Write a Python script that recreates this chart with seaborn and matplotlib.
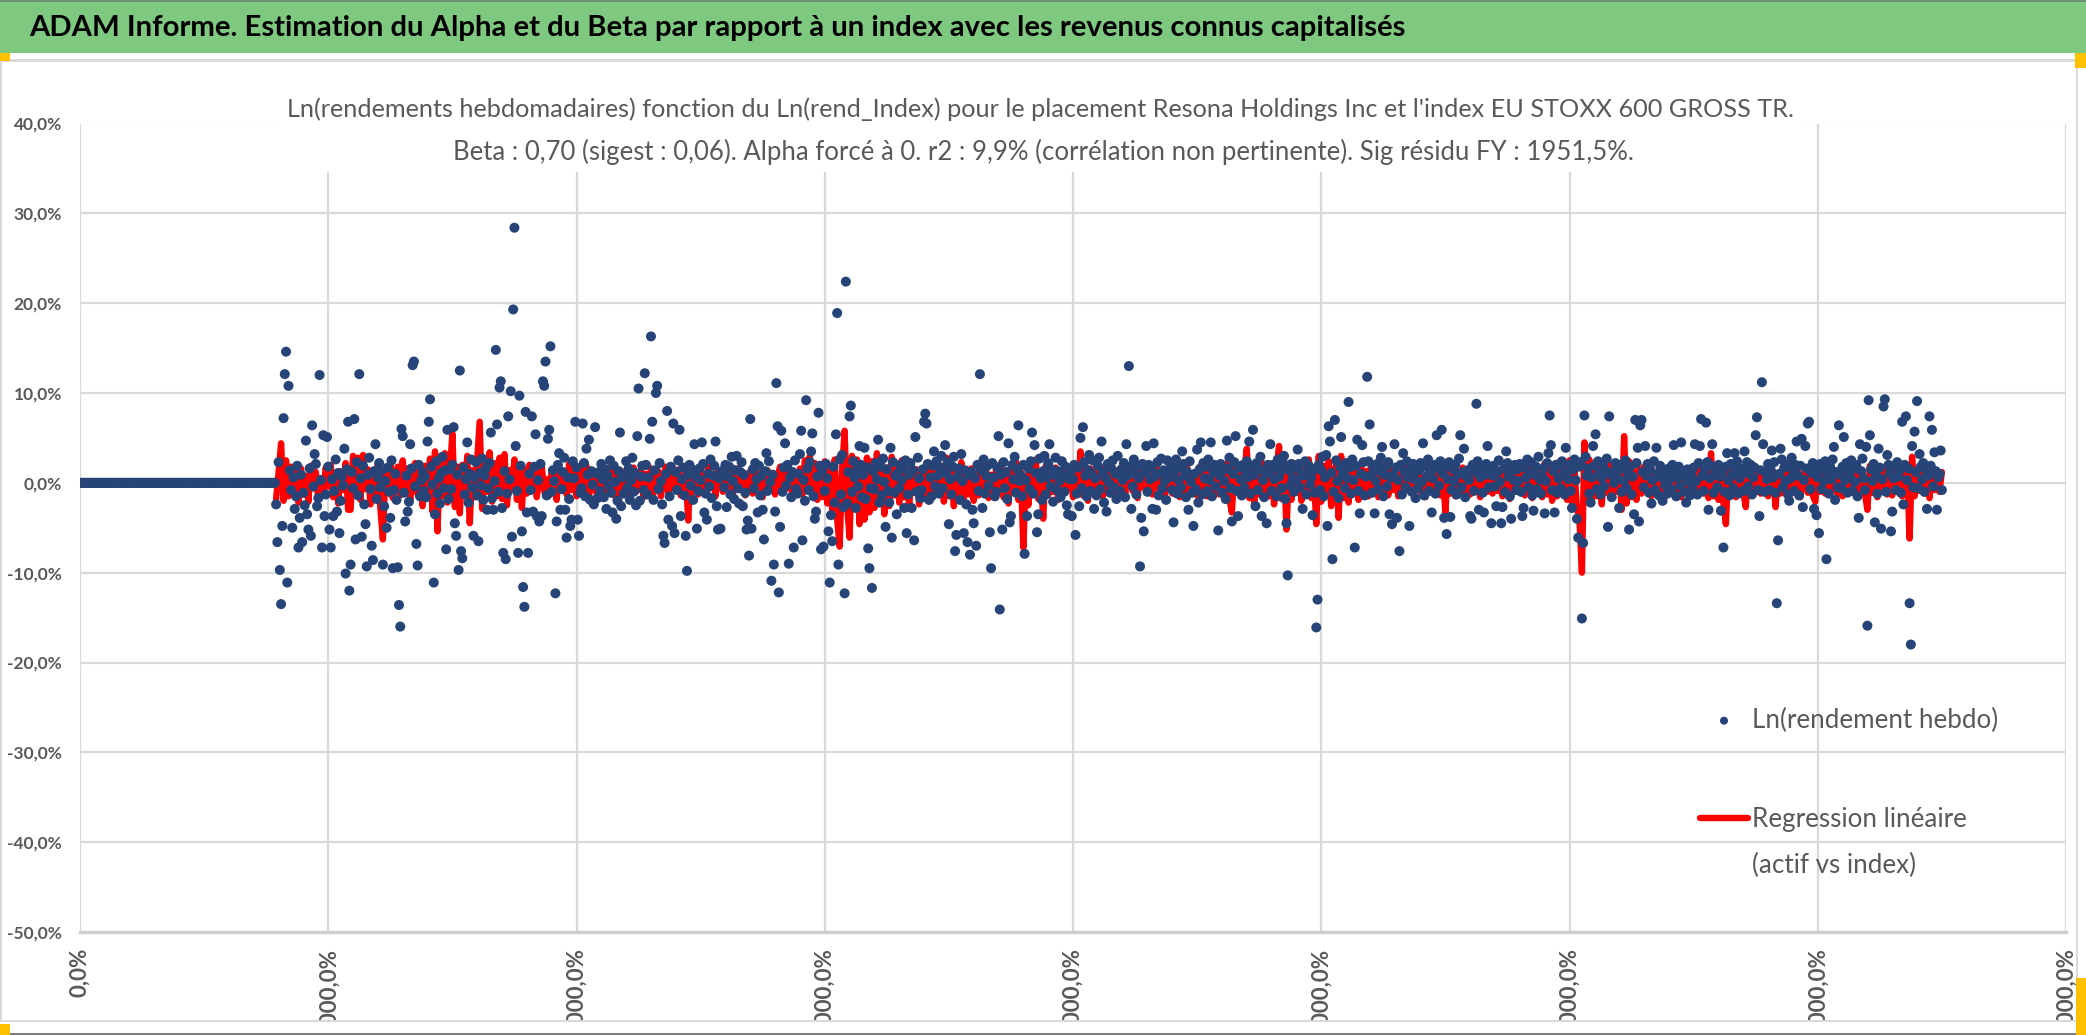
import matplotlib
matplotlib.use("Agg")
import matplotlib.pyplot as plt
from matplotlib import font_manager
from matplotlib.lines import Line2D
from matplotlib.patches import Rectangle
import pandas as pd
import seaborn as sns

W, H, DPI = 2086, 1035, 100

# ---------------------------------------------------------------- data
# Ln(rendement hebdo), in %. The series sits flat on 0 before the history
# starts at x = 79, then two points per x unit (rows of 20 = 10 x units).
FIRST_X = 79
flat_start = [0.0] * (2 * FIRST_X)

weekly_079 = [
    [-2.4, -6.6, 2.3, -9.7, -13.5, -4.8, 7.2, 12.1, 14.6, -11.1, 10.8, 1.4, -0.8, -5.0, 0.6, -2.9, -1.5, 1.9, -7.2, -3.9],
    [0.9, -6.6, -1.1, -2.5, 4.7, -3.5, -5.2, 1.6, -5.9, 6.4, -0.4, 3.2, 2.1, -2.6, -1.7, 12.0, 0.3, -7.2, 5.3, -3.7],
    [-1.3, 5.1, 1.8, -5.2, -7.2, 0.4, -3.7, -0.9, 2.6, -3.2, 1.1, -5.6, -2.0, 0.7, -0.3, 3.8, -10.1, 1.5, 6.8, -12.0],
    [-9.1, 1.2, -0.6, 7.1, -6.3, 2.3, -1.4, 12.1, 0.5, -6.0, 1.9, -2.4, -4.6, -9.3, 0.9, 2.8, -0.7, -7.0, -8.6, 1.3],
    [4.3, -1.8, 0.6, 2.2, -0.5, 1.4, -9.1, -2.6, 0.2, -5.0, 1.7, -1.0, -3.9, 2.5, -9.5, -0.8, 1.0, -1.9, -9.4, -13.6],
    [-16.0, 6.0, 5.2, -1.1, -4.3, 0.8, -3.2, -2.1, 4.3, 1.6, 13.1, 13.5, -0.4, -6.8, -9.2, 2.0, -1.5, 0.3, 1.2, -0.9],
    [0.7, -1.6, 4.6, 6.8, 9.3, 1.8, -0.2, -11.1, -3.5, 2.4, -1.2, 0.5, -2.3, 1.1, 2.9, -0.6, 1.4, -7.4, 5.9, -1.8],
    [1.5, -0.7, 2.0, 6.2, -4.5, -5.9, 0.9, -9.7, 12.5, -7.6, -8.4, 1.7, -1.3, 0.4, 4.5, -2.2, 1.0, 2.6, -0.5, -5.9],
    [0.6, 2.3, -1.4, -6.5, 1.1, -0.3, 2.7, -1.9, 0.8, 1.6, -3.0, -0.6, 2.2, 5.6, -1.7, -3.0, 0.2, 14.8, 6.5, -1.0],
    [10.6, 11.3, -2.8, -7.8, 1.3, -8.5, -1.2, 7.4, 0.4, 10.2, -6.0, 19.3, 28.4, 4.1, -0.9, -7.8, 9.7, 1.9, -5.4, -11.6],
]
weekly_179 = [
    [-13.8, 7.9, -3.3, -7.8, 1.0, -0.8, 7.4, -3.2, 1.8, 5.4, -3.7, 0.3, -4.3, 2.1, -3.7, 11.3, 10.8, 13.5, -1.4, 4.9],
    [5.9, 15.2, -1.0, 1.4, 0.2, -12.3, -4.3, 2.0, 3.3, -3.0, -0.7, 1.2, 2.8, -3.0, -6.1, 0.6, -1.8, -4.8, -4.1, 2.4],
    [0.5, 6.8, 1.7, -4.1, -5.9, -1.1, -0.6, 6.6, 2.2, -1.5, 3.8, 0.9, 4.8, -1.9, 1.3, -0.2, -2.4, 6.2, 1.0, -1.7],
    [1.2, -0.9, 2.1, 0.4, -1.6, 1.5, -2.9, 0.8, -0.3, 2.5, -1.1, -3.3, 1.9, 0.1, -4.0, -2.0, 1.3, 5.6, -2.6, 0.6],
    [-1.2, 0.9, 2.4, -0.5, 1.6, -1.9, 0.3, 2.8, -1.0, 1.1, -2.5, 5.2, 10.5, -2.0, 0.7, 1.9, -0.8, 12.2, 2.0, -1.3],
    [0.6, 4.9, 16.3, 6.8, -1.9, 1.4, 10.0, 10.8, -0.7, 2.2, 0.2, -2.4, -5.9, -6.7, 1.0, 8.0, -4.1, -1.5, 1.8, -4.8],
    [6.6, -5.6, 1.2, -0.8, 2.5, 5.9, -3.7, 0.4, 1.7, -1.4, -5.9, -9.8, 0.9, 2.0, -0.3, 1.5, -1.9, 4.3, 0.7, -5.1],
    [-0.9, 1.6, 0.3, 4.5, 2.1, -3.3, -1.2, -4.1, 1.0, -0.4, 2.6, -1.7, 0.8, 1.9, 4.6, -2.6, -5.2, 0.5, -5.1, 1.3],
    [1.1, -0.5, 2.0, -2.7, 0.7, 1.8, -1.3, 2.9, 0.2, -1.8, 1.4, 3.0, -0.6, -2.3, 1.2, 2.3, -2.6, 0.9, -1.1, -5.2],
    [-4.2, -8.1, 7.1, -5.1, 1.5, -0.6, 2.2, 0.4, -3.3, 1.9, -1.4, 0.8, -3.0, -6.3, 1.3, 3.3, -0.9, 2.4, 0.1, -10.9],
]
weekly_279 = [
    [0.9, -9.1, -3.2, 11.1, 6.3, -12.2, -4.9, 5.8, -1.0, 1.7, 4.4, -0.3, 2.0, -9.0, 0.6, -1.6, 1.2, -7.2, 2.5, -0.7],
    [-1.2, 1.0, 3.2, 5.8, -6.4, 0.3, -2.0, 9.2, 1.6, -0.8, 2.3, 3.5, 5.5, -1.5, -4.0, -3.2, 0.7, 7.8, 1.9, -7.4],
    [1.4, -7.1, -0.9, 2.1, 0.5, -5.4, -11.1, -3.6, -6.5, 1.8, -2.2, 5.4, 18.9, -9.1, 2.6, -1.3, 3.1, -2.7, -12.3, 22.4],
    [-2.3, 1.2, 7.4, 8.6, -1.0, 2.4, 0.6, -2.8, 1.5, -0.4, 4.1, 2.0, -1.6, 0.9, 3.9, -1.8, 1.7, -7.3, -9.5, -0.6],
    [-11.7, 1.3, -0.7, 2.2, 0.4, 4.8, -2.2, 1.8, -1.4, 2.7, 0.1, -4.9, 1.5, -0.9, -2.2, 3.9, -6.1, 2.3, -1.1, 0.8],
    [-3.5, 1.1, -0.6, 2.0, 0.3, 1.6, -2.8, 2.5, -5.6, -1.3, 0.9, 2.2, -2.8, 1.4, -6.4, 5.1, -1.0, 2.8, 0.5, -1.7],
    [-0.8, 1.5, 6.8, 7.7, 6.6, 2.1, -1.9, 0.6, -1.5, 1.9, 3.5, -0.4, 2.4, 0.8, -1.2, 1.7, 3.0, -0.6, 1.3, 4.2],
    [1.0, 2.3, -4.6, 0.4, -1.3, 1.8, 2.9, -7.6, -5.8, 0.7, 1.6, -1.9, 3.2, 0.2, -5.6, 1.4, -2.4, -6.6, 0.9, -8.0],
    [1.2, -3.0, -4.5, 0.5, -7.0, 2.0, -0.9, 12.1, 1.4, -2.8, 2.6, -1.2, 0.8, 1.9, -0.3, -5.5, -9.5, 2.2, 0.6, -1.5],
    [-1.0, 1.7, 5.2, -14.1, 0.9, -5.2, 2.3, -0.6, 1.2, -1.8, 4.4, -4.4, -3.7, 2.0, 0.4, 2.9, -1.1, 1.5, 6.4, 0.2],
]
weekly_379 = [
    [0.8, -1.5, 2.0, -7.9, 0.3, -3.7, 1.6, -0.7, 2.4, 5.6, -1.2, 4.2, 1.1, -5.5, -3.5, 2.7, 0.5, -1.9, 1.3, 3.0],
    [-1.3, 0.6, 2.2, 4.3, -0.4, 1.5, -2.1, 0.9, 2.8, -0.8, 1.3, 0.2, -1.6, 2.4, 0.7, -1.0, 1.8, -2.5, -3.5, 0.4],
    [1.1, -3.7, 0.4, 2.0, -5.8, -1.2, 1.7, -2.6, 5.0, -0.6, 6.2, 2.3, 0.8, -1.5, 1.4, 3.1, -0.9, 1.0, 2.5, -2.9],
    [0.5, -1.4, 1.9, 2.8, -0.7, 4.6, 1.2, -2.2, 0.6, -3.2, 2.1, 0.0, -1.1, 1.6, 2.5, -0.5, 1.0, -1.8, 3.0, 0.9],
    [-0.9, 1.5, 0.3, 2.2, -1.6, 4.3, 0.8, 13.0, 1.8, -2.9, -0.4, 2.6, 1.0, -1.3, 1.9, 0.5, -9.3, -3.9, 2.1, -5.4],
    [1.2, 4.1, -1.0, 2.0, 0.4, 1.6, -2.9, 4.4, 0.7, -3.0, 2.3, -1.4, 1.1, 2.7, -0.6, 1.4, 0.2, -1.9, 2.5, 0.9],
    [0.6, 1.9, -0.8, -4.4, 1.3, 2.6, -1.2, 0.3, 1.7, -0.5, 3.5, 2.1, 0.8, -1.6, 1.2, -3.0, 2.4, 0.1, -1.1, -4.8],
    [1.0, -0.7, 3.7, -2.2, 1.5, 4.5, -1.3, 2.2, 0.5, 1.8, -0.9, 2.6, 0.3, 4.5, -1.5, 1.2, 2.0, -0.4, 1.6, -5.3],
    [0.8, 2.1, -1.1, 1.4, 0.2, -1.8, 4.7, 1.6, 2.8, -0.6, -4.3, 1.0, 2.3, 5.2, -0.9, -3.7, 1.7, 0.4, -1.4, 2.0],
    [-0.5, 1.3, 2.4, 0.6, 4.6, -1.2, 1.9, 5.9, 0.9, -2.6, 2.2, -0.8, 1.5, 2.9, -3.7, 0.3, -1.6, 1.1, -4.5, 2.0],
]
weekly_479 = [
    [1.1, 4.3, -0.9, 2.0, 0.4, 1.7, -1.5, 2.6, 0.7, 1.3, -0.6, 2.2, 3.0, -1.8, -4.5, -10.3, 1.4, -0.3, 2.1, 0.5],
    [-1.0, 1.6, 0.3, 3.7, 2.1, -0.5, 1.2, -2.9, 0.8, 2.4, -1.3, 1.0, 1.9, -0.2, 0.6, -3.6, 1.5, -1.1, -16.1, -13.0],
    [2.0, -0.8, 1.4, 2.9, -1.5, 0.6, 3.1, -4.8, 6.3, 4.6, 1.1, -8.5, -1.0, 7.0, 2.5, 0.2, -1.7, 1.8, 5.1, 0.9],
    [1.3, -0.6, 2.2, 0.5, 9.0, 1.7, -1.2, 2.6, 0.3, -7.2, 1.9, 4.8, -0.9, -3.4, 1.0, 4.2, 2.3, -1.4, 0.7, 11.8],
    [2.4, 6.5, 0.8, -1.1, 1.6, -3.4, 0.2, 2.1, -0.7, 1.3, 2.8, 4.0, -1.5, 0.9, 1.8, -0.4, 2.3, -3.5, 0.6, -4.6],
    [0.9, 4.3, 1.7, -3.9, 0.3, -7.6, 2.0, -1.3, 3.3, 1.2, -0.5, 2.4, 0.6, -4.8, 1.5, -1.0, 2.1, 0.4, -1.7, 1.3],
    [-0.6, 1.4, 2.2, 0.1, 4.4, -1.4, 1.8, 0.7, 2.6, -0.9, 1.1, -3.3, 0.5, 2.0, -1.2, 5.3, 1.6, -0.3, 2.4, 5.9],
    [1.0, -3.9, 1.8, -5.7, 0.4, 2.3, -3.8, -0.8, 1.5, 0.2, 2.0, -1.3, 0.9, 2.7, 5.3, -0.5, 1.2, 3.8, -1.6, 0.7],
    [1.4, 0.3, -3.7, -4.0, 2.0, -0.9, 1.2, 8.8, 2.4, -3.0, 0.6, 1.7, -1.1, -3.3, 0.9, 2.1, 4.1, -0.5, 1.3, -4.5],
    [0.8, 1.9, -0.4, -2.6, 1.2, 2.5, 0.1, -4.5, -2.7, 1.6, -1.0, 3.5, 2.2, 0.7, -1.5, -4.0, 1.4, 0.3, 2.0, -0.8],
]
weekly_579 = [
    [1.5, 0.2, 2.1, -1.0, -3.7, -2.8, 1.7, 0.6, 2.6, -0.5, 1.1, 2.3, -1.4, -3.1, 0.9, 1.8, -0.7, 2.9, 0.4, -1.2],
    [0.7, 1.6, -3.4, 0.2, 2.2, 3.3, 7.5, 4.2, -0.8, 1.3, -3.3, 2.0, -1.1, 0.5, 1.9, -0.6, 2.4, 0.9, -1.3, 3.9],
    [1.2, 0.4, 2.0, -0.9, -2.8, 1.5, 2.6, 0.3, -4.0, -6.1, 1.8, 2.3, -15.1, -6.7, 7.5, 2.9, 0.8, 1.6, -1.2, -2.2],
    [0.6, 4.1, 1.9, 5.4, -0.7, 2.4, 1.1, -1.3, 0.5, 2.1, -0.4, 1.4, 2.7, -4.9, 7.4, 0.9, -1.6, 1.2, 0.0, 2.2],
    [1.3, 0.5, -2.8, 2.0, -1.0, 1.6, 0.2, 2.5, -0.6, 1.1, -5.2, 1.8, -1.3, 0.7, -3.5, 7.0, 2.2, 3.9, -4.3, 6.4],
    [7.0, 1.2, -0.5, 4.1, 0.8, 2.1, -1.1, 1.5, -2.3, 0.3, 2.4, -0.8, 3.9, 1.0, -1.4, 1.9, 0.6, -2.0, 1.3, -0.3],
    [0.9, -1.2, 1.6, 0.4, -0.7, 2.0, 4.2, 1.1, -1.5, 0.6, 1.8, -0.3, 4.5, 1.3, -1.0, 0.7, -2.2, 1.5, 0.1, -1.4],
    [1.0, -0.6, 1.7, 4.3, 0.2, -1.3, 2.2, 4.1, 7.1, 0.8, -0.9, 1.4, 6.7, 2.3, -3.0, 0.5, 1.9, 4.3, -1.1, 0.9],
    [1.4, -0.5, 2.0, 0.7, -3.1, 1.2, -7.2, -1.0, 1.8, 3.3, 0.3, -1.4, 2.1, 0.9, -0.6, 3.3, 1.5, 2.4, -1.2, 0.5],
    [0.8, 1.6, -0.9, 3.5, 1.2, 2.3, -0.4, 1.0, 2.0, -1.3, 0.6, 1.7, 5.3, 7.3, -0.8, -3.7, 1.4, 11.2, 4.3, -1.0],
]
weekly_679 = [
    [1.2, 0.4, 2.1, -0.8, 1.5, 3.6, 0.6, 2.3, -1.1, -13.4, -6.4, 1.0, 3.8, 2.6, -0.5, 1.7, 0.2, 2.0, -1.3, -2.0],
    [0.5, 2.8, 1.4, -0.9, 2.0, 4.6, 0.8, -1.4, 1.9, 4.9, -2.7, 0.3, 4.1, 1.6, 6.6, 6.8, -0.7, 1.1, 2.2, -2.9],
    [1.3, -3.6, 0.6, -5.6, 2.1, -0.7, 1.5, 0.2, 2.4, -8.5, 1.0, -1.2, 1.8, 0.4, 2.6, 4.0, -1.9, 1.2, -0.5, 6.4],
    [0.9, -0.6, 1.8, 5.1, 0.3, 2.2, -1.1, 1.4, 0.7, 2.5, -0.9, 1.6, 0.1, 2.0, -1.5, -3.9, 4.3, 1.3, 2.7, 0.5],
    [-0.8, 4.0, -15.9, 9.2, 5.3, 1.5, 0.2, 2.1, -4.4, 0.9, -1.2, 3.8, 1.7, -5.1, 0.4, 8.5, 9.3, -1.0, 3.1, 2.0],
    [1.1, -5.4, -3.2, 0.5, 1.9, -0.8, 2.3, 0.7, 1.4, -1.1, 6.8, -2.4, 2.0, 7.4, 0.3, 1.6, -13.4, -18.0, 4.1, -0.5],
    [5.7, 1.2, 9.1, -0.6, 3.2, 1.8, 0.4, 2.2, -1.0, 1.5, -2.9, 0.8, 7.4, 1.9, 5.9, -0.4, 3.4, 1.3, -3.0, 0.6],
    [1.0, 3.6, -0.8],
]

# Regression linéaire (actif vs index), in %: one value per x unit, rows of 10.
fit_079 = [
    [-1.8, 1.2, 4.4, -2.0, 2.5, -1.5, 1.8, -0.9, 1.4, -2.2],
    [1.6, -1.3, 0.8, -2.1, 1.9, -0.6, 1.2, -1.8, 0.5, -1.1],
    [1.7, -0.4, 2.0, -1.6, 0.9, -2.3, 1.3, -0.8, 2.2, -3.0],
    [-3.0, 3.0, -1.2, 2.8, -1.9, 3.1, -0.7, 1.5, -2.4, 0.9],
    [-1.6, 2.1, -2.8, -6.3, 1.4, -1.0, 2.3, -1.7, 0.6, 1.8],
    [-1.4, 2.5, -0.9, 1.6, -2.0, 0.7, 2.2, -1.3, 1.0, -2.6],
    [1.9, -1.1, 2.7, -3.2, 3.5, -5.4, 2.4, -1.5, 3.3, -2.2],
    [1.2, 5.5, -2.7, 1.8, -3.4, 2.0, -1.2, 3.0, -4.5, 1.4],
    [-1.6, 2.6, 6.8, -2.9, 1.9, -1.0, 3.4, -2.1, 2.2, -1.5],
    [2.8, -1.8, 3.2, -2.5, 1.4, -0.8, 2.6, -1.9, 1.7, -2.8],
]
fit_179 = [
    [1.5, -1.2, 2.0, -0.7, 1.1, -1.6, 0.9, 1.8, -1.0, 0.4],
    [-1.4, 1.3, 0.6, -1.9, 1.7, -0.5, 1.0, -1.3, 2.1, -0.8],
    [1.2, -1.5, 0.8, 1.6, -0.9, 1.9, -1.7, 0.5, 1.3, -1.1],
    [0.7, 1.5, -1.2, 1.0, -0.6, 1.8, -1.4, 0.9, -2.2, 1.1],
    [-0.5, 1.4, -1.3, 0.8, 1.7, -1.0, 0.6, 1.5, -1.6, 1.0],
    [-0.7, 1.6, -1.2, 0.9, 1.3, -1.5, 0.4, 1.8, -1.1, 0.7],
    [1.2, -0.9, 1.5, -1.4, 0.6, 1.1, -4.2, 1.7, -1.0, 0.8],
    [-1.3, 1.4, 0.5, -1.1, 1.8, -0.6, 1.0, -1.5, 1.3, 0.2],
    [-1.0, 1.5, -0.4, 1.2, -1.3, 0.9, 1.6, -0.8, 1.1, -1.4],
    [0.6, 1.3, -1.2, 1.7, -0.5, 1.0, -1.6, 0.8, 1.4, -0.9],
]
fit_279 = [
    [1.1, -1.3, 0.7, 1.8, -1.0, 1.2, -0.6, 1.5, -1.7, 0.9],
    [-1.1, 1.6, -1.3, 2.5, -0.8, 3.0, -1.5, 2.2, -1.9, 1.3],
    [-1.6, 2.4, -2.3, 1.8, -3.0, 2.6, -4.0, -7.1, 1.5, 5.8],
    [-2.5, -6.1, 3.0, -2.2, 2.6, -4.6, 1.9, -4.1, 2.8, -3.3],
    [2.4, -2.8, 3.3, -1.9, 2.1, -3.5, 1.7, -2.6, 2.9, -1.4],
    [1.8, -2.2, 2.5, -1.6, 1.2, -2.9, 2.0, -1.1, 1.5, -2.4],
    [1.3, -1.8, 2.2, -0.9, 1.6, -1.4, 2.5, -1.2, 1.9, -2.1],
    [2.8, -1.5, 2.1, -2.6, 1.4, -1.1, 2.3, -1.8, 1.0, -1.3],
    [1.6, -2.0, 1.1, -1.4, 2.0, -0.8, 1.3, -1.7, 0.9, -1.2],
    [1.5, -1.1, 2.2, -1.6, 1.0, -2.3, 1.7, -0.7, 2.4, -1.9],
]
fit_379 = [
    [1.2, -7.2, 0.8, -2.5, 2.0, -1.3, 2.6, -1.8, 1.1, -4.0],
    [1.9, -1.4, 1.3, -1.0, 1.7, -1.9, 0.9, -1.2, 1.5, -0.6],
    [1.1, -1.6, 2.0, -0.9, 3.5, -1.4, 1.2, -2.0, 1.6, -0.8],
    [1.3, -1.1, 0.9, -1.5, 1.8, -0.7, 1.2, -1.3, 0.6, 1.4],
    [-1.0, 1.5, -1.2, 0.8, 1.6, -0.9, 1.1, -1.7, 1.3, -0.5],
    [1.2, -0.8, 1.4, -1.3, 0.9, 1.6, -1.1, 0.7, -1.5, 1.0],
    [1.5, -1.2, 0.6, 1.3, -1.6, 0.8, -0.9, 1.7, -1.0, 0.5],
    [1.1, -1.4, 1.8, -0.7, 1.2, -1.5, 0.9, 1.4, -1.1, 0.6],
    [-1.3, 1.7, -0.9, 2.2, -1.8, -3.3, 1.5, -1.0, 2.0, -1.6],
    [1.2, 3.8, -1.7, 1.9, -2.2, 1.4, -1.3, 2.3, -0.9, 1.6],
]
fit_479 = [
    [-1.5, 2.1, -2.4, 1.6, 4.1, -1.8, 2.5, -5.2, 1.3, -1.9],
    [2.2, -1.1, 1.8, -2.0, 1.5, -1.4, 2.6, -1.7, 1.2, -4.6],
    [3.0, -2.1, 1.9, -1.3, 2.4, -2.6, 1.1, 2.0, -3.9, 3.0],
    [-1.7, 1.6, -2.2, 2.3, -1.2, 1.4, -1.9, 2.1, -1.0, 1.3],
    [-1.5, 1.8, -0.9, 1.2, -1.6, 2.0, -1.1, 0.8, -1.4, 1.5],
    [-0.8, 1.3, -1.5, 1.0, -1.2, 1.7, -0.6, 1.1, -1.3, 0.9],
    [1.4, -1.0, 0.7, -1.6, 1.2, -0.8, 1.5, -1.1, 0.9, -1.4],
    [1.0, -3.3, 1.6, -1.2, 0.8, -1.5, 1.3, -0.9, 1.7, -1.1],
    [0.8, -1.3, 1.5, -0.7, 1.1, -1.6, 0.9, 1.4, -1.0, 0.6],
    [-1.2, 1.7, -0.9, 1.3, -1.5, 0.7, 1.2, -1.8, 1.0, -0.6],
]
fit_579 = [
    [1.5, -1.1, 1.9, -1.4, 0.8, 1.6, -1.7, 2.0, -1.0, 1.3],
    [-1.6, 2.2, -1.3, 1.8, -2.0, 1.1, -1.5, 2.4, -1.2, 1.6],
    [-1.9, 2.5, -2.2, 1.4, -2.8, -4.0, -10.0, 4.5, -2.1, 2.6],
    [-1.8, 2.2, -1.5, 1.9, -2.4, 1.6, -1.1, 2.0, -1.4, 1.2],
    [-1.0, 1.7, -3.0, 5.2, -2.3, 2.4, -1.6, 1.3, -1.9, 1.5],
    [-1.2, 1.8, -0.9, 1.4, -1.5, 1.0, -1.3, 1.6, -0.7, 1.1],
    [-1.4, 1.2, -0.8, 1.7, -1.1, 0.9, -1.6, 1.3, -0.6, 1.5],
    [-1.0, 1.4, -1.3, 0.8, 1.6, -1.2, 1.1, -1.7, 3.3, -1.5],
    [1.2, -1.9, 1.5, -2.2, -4.6, 1.8, -1.1, 1.4, -1.6, 0.9],
    [1.3, -1.0, -2.7, 1.6, -1.4, 1.1, -0.8, 1.5, -1.2, 0.7],
]
fit_679 = [
    [1.2, -1.5, 0.9, 1.3, -2.7, 1.0, -1.2, 1.6, -0.8, 1.1],
    [-1.3, 1.5, -0.9, 1.2, -1.6, 0.8, 1.4, -1.1, 1.0, -1.4],
    [-2.1, 1.3, -1.0, 1.6, -1.2, 0.9, 1.5, -0.7, 1.2, -1.3],
    [1.0, -1.5, 1.7, -0.9, 1.3, -1.1, 1.6, -1.4, 0.8, 1.2],
    [-1.2, -3.0, 1.9, -1.1, 1.4, -1.6, 1.2, -0.9, 1.7, -1.3],
    [1.1, -1.4, 1.6, -1.0, 1.3, -1.5, 0.9, 1.4, -6.2, 2.9],
    [-1.5, 1.2, -0.9, 1.6, -1.2, 1.3, -1.7, 1.0, -0.8, 1.4],
    [-1.0, 1.2],
]

weekly_blocks = {79: weekly_079, 179: weekly_179, 279: weekly_279, 379: weekly_379,
                 479: weekly_479, 579: weekly_579, 679: weekly_679}
fit_blocks = {79: fit_079, 179: fit_179, 279: fit_279, 379: fit_379,
              479: fit_479, 579: fit_579, 679: fit_679}

x_ticks = list(range(0, 801, 100))
y_ticks = list(range(-50, 41, 10))

banner = ("ADAM Informe. Estimation du Alpha et du Beta par rapport à un index "
          "avec les revenus connus capitalisés")
title_1 = ("Ln(rendements hebdomadaires) fonction du Ln(rend_Index) pour le placement "
           "Resona Holdings Inc et l'index EU STOXX 600 GROSS TR.")
title_2 = ("Beta : 0,70 (sigest : 0,06). Alpha forcé à 0. r2 : 9,9% "
           "(corrélation non pertinente). Sig résidu FY : 1951,5%.")
label_pts = "Ln(rendement hebdo)"
label_fit_1 = "Regression linéaire"
label_fit_2 = "(actif vs index)"

# ---------------------------------------------------------------- frames
rows = [{"x": 0.5 * j, "y": v} for j, v in enumerate(flat_start)]
for start, block in weekly_blocks.items():
    for r, row in enumerate(block):
        rows += [{"x": start + 10 * r + 0.5 * j, "y": v} for j, v in enumerate(row)]
pts = pd.DataFrame(rows)

rows = []
for start, block in fit_blocks.items():
    for r, row in enumerate(block):
        rows += [{"x": start + 10 * r + j, "y": v} for j, v in enumerate(row)]
fit = pd.DataFrame(rows)

# ---------------------------------------------------------------- style
sns.set_theme(style="white")
names = {f.name for f in font_manager.fontManager.ttflist}
FONT = next(f for f in ["Liberation Sans Narrow", "Lato", "DejaVu Sans"] if f in names)
plt.rcParams["font.family"] = [FONT, "DejaVu Sans"]

GREY_TXT = "#595959"
GRID = "#D9D9D9"
BLUE = "#264478"
RED = "#FF0000"
ORANGE = "#FFC000"

fig = plt.figure(figsize=(W / DPI, H / DPI), dpi=DPI, facecolor="white")
renderer = fig.canvas.get_renderer()


def fitted_size(text, width_px, weight="normal"):
    probe = fig.text(0, 0, text, fontsize=20, fontweight=weight)
    w = probe.get_window_extent(renderer).width
    probe.remove()
    return 20 * width_px / w


def px_rect(x0, y0, x1, y1, color, z):
    # rectangle given in image pixels (y measured from the top)
    fig.add_artist(Rectangle((x0 / W, 1 - y1 / H), (x1 - x0) / W, (y1 - y0) / H,
                             transform=fig.transFigure, facecolor=color,
                             edgecolor="none", zorder=z))


ax = fig.add_axes([80 / W, 1 - 932 / H, (2066 - 80) / W, (932 - 123.5) / H])

sns.lineplot(data=fit, x="x", y="y", ax=ax, color=RED, lw=4.6, sort=False,
             estimator=None, label=label_fit_1, legend=False, zorder=2,
             solid_joinstyle="round", solid_capstyle="round")
sns.scatterplot(data=pts, x="x", y="y", ax=ax, color=BLUE, s=52, linewidth=0,
                edgecolor="none", label=label_pts, legend=False, zorder=3)

ax.set_xlim(0, 800)
ax.set_ylim(-50, 40)
ax.set_xlabel("")
ax.set_ylabel("")
ax.set_axisbelow(True)
ax.grid(True, color=GRID, lw=1.6)
for side in ["left", "right", "top"]:
    ax.spines[side].set_visible(False)
ax.spines["bottom"].set_color("#CFCFCF")
ax.spines["bottom"].set_linewidth(2.4)

ytick_fs = fitted_size("40,0%", 49, "bold")
xtick_fs = fitted_size("0,0%", 50, "bold")
ax.set_yticks(y_ticks)
ax.set_yticklabels([f"{v:.1f}%".replace(".", ",") for v in y_ticks],
                   fontsize=ytick_fs, fontweight="bold", color=GREY_TXT)
ax.set_xticks(x_ticks)
ax.set_xticklabels([f"{v * 100:.1f}%".replace(".", ",") for v in x_ticks],
                   fontsize=xtick_fs, fontweight="bold", color=GREY_TXT, rotation=90)
ax.tick_params(axis="y", length=0, pad=13)
ax.tick_params(axis="x", length=0, pad=11.5)

# ---------------------------------------------------------------- legend
handles, labels = ax.get_legend_handles_labels()
dot_handle = handles[labels.index(label_pts)]
line_handle = handles[labels.index(label_fit_1)]

leg_fs = fitted_size(label_pts, 247)
leg_px = leg_fs * DPI / 72
probe = fig.text(0, 0, label_fit_1, fontsize=leg_fs)
text_h = probe.get_window_extent(renderer).height
probe.remove()
common = dict(frameon=False, borderpad=0, borderaxespad=0, loc="center left",
              handlelength=48 / leg_px, handletextpad=4 / leg_px, fontsize=leg_fs,
              labelcolor=GREY_TXT, bbox_transform=fig.transFigure)
leg1 = ax.legend([dot_handle], [label_pts], bbox_to_anchor=(1700 / W, 1 - 720 / H),
                 markerscale=0.8, scatterpoints=1, **common)
ax.add_artist(leg1)
ax.legend([line_handle, Line2D([], [], linestyle="none")], [label_fit_1, label_fit_2],
          bbox_to_anchor=(1700 / W, 1 - 842.5 / H),
          labelspacing=(45 - text_h) / leg_px, **common)

# ---------------------------------------------------------------- frame & titles
px_rect(0, 0, W, 53, "#7EC87F", 5)
px_rect(0, 0, W, 2, "#6F8F6F", 6)
px_rect(0, 59, W, 62, GRID, 5)
px_rect(277, 63, 1805, 172, "white", 4)          # title box hides the grid
px_rect(0, 62, 2, 1021, GRID, 5)
px_rect(2076, 62, 2078, 1021, GRID, 5)
px_rect(0, 1021, W, H, "white", 10)             # clips the x tick labels
px_rect(0, 1020, 2078, 1022, GRID, 11)
px_rect(0, 1033, W, H, "#7F7F7F", 11)
px_rect(0, 53, 10, 61, ORANGE, 12)
px_rect(2075, 53, W, 68, ORANGE, 12)
px_rect(0, 1024, 10, H, ORANGE, 12)
px_rect(2076, 978, W, H, ORANGE, 12)

fig.text(29 / W, 1 - 28 / H, banner, ha="left", va="center", color="black",
         fontweight="bold", fontsize=fitted_size(banner, 1378, "bold"), zorder=7)
fig.text(1040 / W, 1 - 109 / H, title_1, ha="center", va="center", color=GREY_TXT,
         fontsize=fitted_size(title_1, 1507), zorder=7)
fig.text(1043 / W, 1 - 152 / H, title_2, ha="center", va="center", color=GREY_TXT,
         fontsize=fitted_size(title_2, 1181), zorder=7)

fig.savefig("out.png", dpi=DPI, facecolor="white")
